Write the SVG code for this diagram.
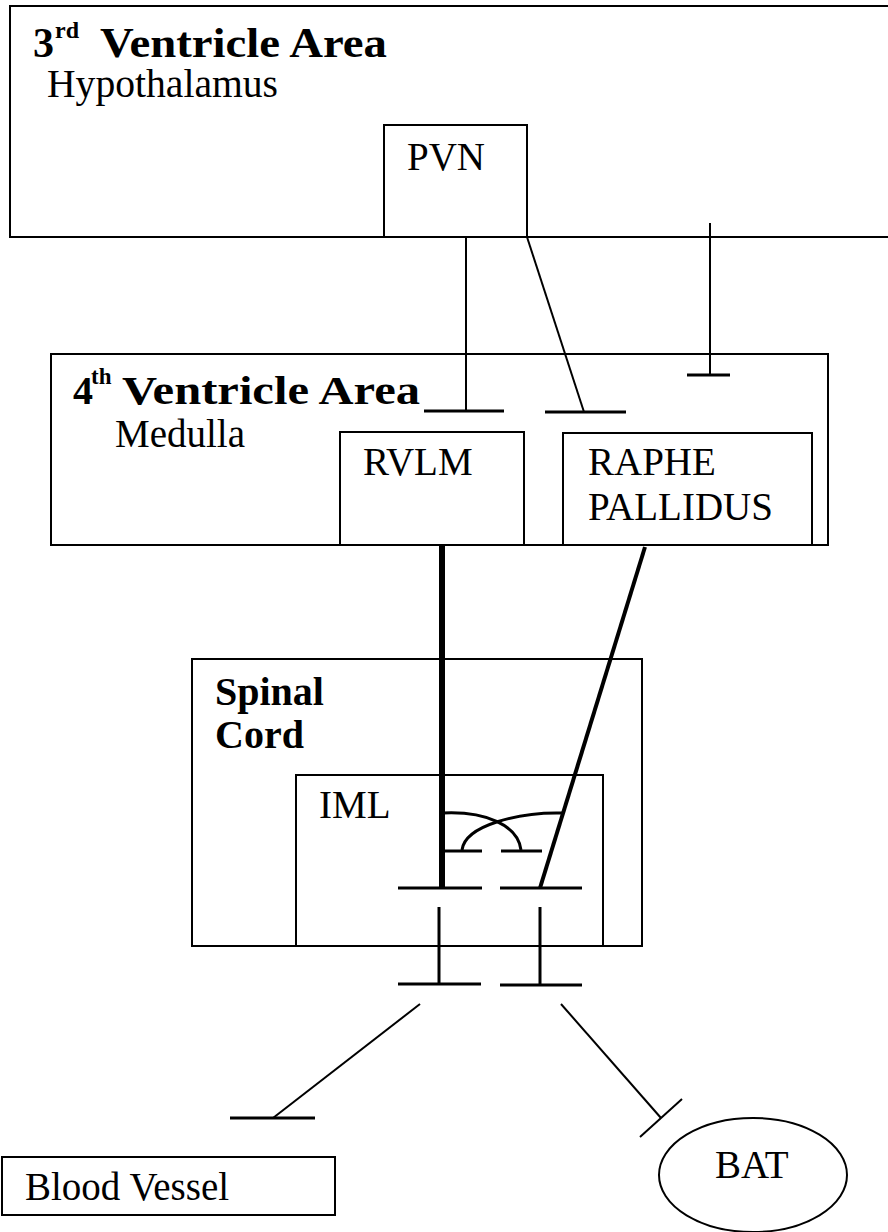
<svg xmlns="http://www.w3.org/2000/svg" width="888" height="1232" viewBox="0 0 888 1232">
<style>
.box{fill:none;stroke:#000;stroke-width:2}
.wbox{fill:#fff;stroke:#000;stroke-width:2}
.t{font-family:"Liberation Serif","Times New Roman",serif;font-size:39px;fill:#000}
.b{font-family:"Liberation Serif","Times New Roman",serif;font-weight:bold;fill:#000}
.c{fill:none;stroke:#000;stroke-width:2}
.bar{fill:none;stroke:#000;stroke-width:3}
</style>
<rect width="888" height="1232" fill="#fff"/>
<g id="third-ventricle">
<rect class="box" x="10" y="6" width="900" height="231"/>
<text class="b" x="33" y="57" font-size="42">3</text>
<text class="b" x="55" y="38" font-size="24">rd</text>
<text class="b" x="100" y="57" font-size="42" textLength="287" lengthAdjust="spacingAndGlyphs">Ventricle Area</text>
<text class="t" x="47" y="97" textLength="231" lengthAdjust="spacingAndGlyphs">Hypothalamus</text>
</g>
<g id="pvn">
<rect class="wbox" x="384" y="125" width="143" height="112"/>
<text class="t" x="407" y="170">PVN</text>
</g>
<g id="fourth-ventricle">
<rect class="box" x="51" y="354" width="777" height="191"/>
<text class="b" x="73" y="404" font-size="40">4</text>
<text class="b" x="91" y="384" font-size="23">th</text>
<text class="b" x="122" y="404" font-size="40" textLength="298" lengthAdjust="spacingAndGlyphs">Ventricle Area</text>
<text class="t" x="115" y="447">Medulla</text>
</g>
<g id="rvlm">
<rect class="box" x="340" y="432" width="184" height="113"/>
<text class="t" x="363" y="475">RVLM</text>
</g>
<g id="raphe-pallidus">
<rect class="box" x="563" y="433" width="249" height="112"/>
<text class="t" x="588" y="475">RAPHE</text>
<text class="t" x="588" y="520">PALLIDUS</text>
</g>
<g id="spinal-cord">
<rect class="box" x="192" y="659" width="450" height="287"/>
<text class="b" x="215" y="705" font-size="40">Spinal</text>
<text class="b" x="215" y="748" font-size="40">Cord</text>
</g>
<g id="iml">
<rect class="box" x="296" y="775" width="307" height="171"/>
<text class="t" x="319" y="818">IML</text>
</g>
<g id="blood-vessel">
<rect class="box" x="2" y="1157" width="333" height="58"/>
<text class="t" x="25" y="1200">Blood Vessel</text>
</g>
<g id="bat">
<ellipse class="box" cx="753" cy="1175" rx="94" ry="57"/>
<text class="t" x="715" y="1178">BAT</text>
</g>
<g id="connectors">
<line class="c" x1="466" y1="237" x2="466" y2="411"/>
<line class="bar" x1="424" y1="411" x2="504" y2="411"/>
<line class="c" x1="527" y1="237" x2="584" y2="412"/>
<line class="bar" x1="545" y1="412" x2="626" y2="412"/>
<line class="c" x1="710" y1="223" x2="710" y2="375"/>
<line class="bar" x1="687" y1="375" x2="730" y2="375"/>
<line stroke="#000" stroke-width="6" x1="442" y1="545" x2="442" y2="888"/>
<line class="bar" x1="398" y1="888" x2="482" y2="888"/>
<line stroke="#000" stroke-width="4" x1="645" y1="547" x2="540" y2="888"/>
<line class="bar" x1="500" y1="888" x2="582" y2="888"/>
<path class="bar" d="M443,813 C485,811 518,825 521,850"/>
<path class="bar" d="M562,813 C520,812 465,825 462,850"/>
<line class="bar" x1="445" y1="851" x2="482" y2="851"/>
<line class="bar" x1="501" y1="851" x2="542" y2="851"/>
<line class="bar" x1="439" y1="907" x2="439" y2="984"/>
<line class="bar" x1="540" y1="907" x2="540" y2="984"/>
<line class="bar" x1="398" y1="984" x2="481" y2="984"/>
<line class="bar" x1="500" y1="985" x2="582" y2="985"/>
<line class="c" x1="420" y1="1004" x2="273" y2="1118"/>
<line class="bar" x1="230" y1="1118" x2="315" y2="1118"/>
<line class="c" x1="561" y1="1004" x2="661" y2="1118"/>
<line class="c" x1="682" y1="1099" x2="640" y2="1137"/>
</g>
</svg>
